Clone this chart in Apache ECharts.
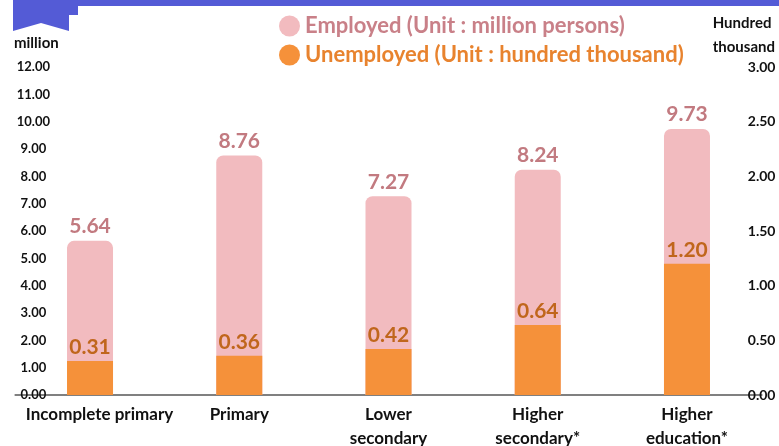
<!DOCTYPE html>
<html lang="en">
<head>
    <meta charset="UTF-8">
    <title>Employed and unemployed by education</title>
    <script src="https://cdn.jsdelivr.net/npm/echarts@6/dist/echarts.min.js"></script>
    <style>
        html, body { margin: 0; padding: 0; background: #fff; }
        #main { width: 779px; height: 446px; }
    </style>
</head>
<body>
<div id="main"></div>
<script>
    // data
    var categories = ['Incomplete primary', 'Primary', 'Lower\nsecondary', 'Higher\nsecondary*', 'Higher\neducation*'];
    var employed = [5.64, 8.76, 7.27, 8.24, 9.73];       // million persons
    var unemployed = [0.31, 0.36, 0.42, 0.64, 1.20];     // hundred thousand
    var leftTicks = [0, 12, 1];
    var rightTicks = [0, 3, 0.5];

    var FONT = 'Lato';

    // the first label sits a bit right of its bar in the original
    var catData = categories.map(function (c, i) {
        return i === 0 ? { value: c, textStyle: { padding: [0, 0, 0, 19] } } : c;
    });

    var chart = echarts.init(document.getElementById('main'));
    chart.setOption({
        backgroundColor: '#fff',
        textStyle: { fontFamily: FONT },
        legend: {
            orient: 'vertical',
            left: 274,
            top: 10,
            itemGap: 7,
            itemWidth: 21,
            itemHeight: 21,
            icon: 'circle',
            data: [
                { name: 'Employed (Unit : million persons)', textStyle: { color: '#C98088' } },
                { name: 'Unemployed (Unit : hundred thousand)', textStyle: { color: '#E8832E' } }
            ],
            textStyle: { fontSize: 22, fontWeight: 'bold', fontFamily: FONT }
        },
        grid: { left: 15.4, right: 17.4, top: 67, bottom: 51, outerBoundsMode: 'none' },
        xAxis: {
            type: 'category',
            data: catData,
            axisLine: { show: true, lineStyle: { color: '#808080', width: 2 } },
            axisTick: { show: false },
            axisLabel: {
                interval: 0,
                margin: 8,
                color: '#111',
                fontSize: 17,
                fontWeight: 'bold',
                lineHeight: 24,
                fontFamily: FONT
            }
        },
        yAxis: [
            {
                type: 'value',
                min: leftTicks[0],
                max: leftTicks[1],
                interval: leftTicks[2],
                offset: -36,
                axisLine: { show: false },
                axisTick: { show: false },
                splitLine: { show: false },
                axisLabel: {
                    align: 'center',
                    margin: 18,
                    color: '#111',
                    fontSize: 13,
                    fontWeight: 'bold',
                    fontFamily: FONT,
                    formatter: function (v) { return v.toFixed(2); }
                }
            },
            {
                type: 'value',
                min: rightTicks[0],
                max: rightTicks[1],
                interval: rightTicks[2],
                offset: -31,
                axisLine: { show: false },
                axisTick: { show: false },
                splitLine: { show: false },
                axisLabel: {
                    align: 'center',
                    margin: 31,
                    color: '#111',
                    fontSize: 14,
                    fontWeight: 'bold',
                    fontFamily: FONT,
                    formatter: function (v) { return v.toFixed(2); }
                }
            }
        ],
        series: [
            {
                name: 'Employed (Unit : million persons)',
                type: 'bar',
                barWidth: 46,
                barGap: '-100%',
                data: employed,
                itemStyle: { color: '#F2BBBF', borderRadius: [7, 7, 0, 0] },
                label: {
                    show: true,
                    position: 'top',
                    distance: 4,
                    color: '#C27A80',
                    fontSize: 21,
                    fontWeight: 'bold',
                    fontFamily: FONT,
                    formatter: function (p) { return p.value.toFixed(2); }
                }
            },
            {
                name: 'Unemployed (Unit : hundred thousand)',
                type: 'bar',
                yAxisIndex: 1,
                barWidth: 46,
                data: unemployed,
                itemStyle: { color: '#F5913A' },
                label: {
                    show: true,
                    position: 'top',
                    distance: 3,
                    color: '#C0661C',
                    fontSize: 21,
                    fontWeight: 'bold',
                    fontFamily: FONT,
                    formatter: function (p) { return p.value.toFixed(2); }
                }
            }
        ],
        graphic: [
            {
                type: 'polygon',
                shape: { points: [[13, 0], [779, 0], [779, 6], [78, 6], [78, 15], [69, 15], [69, 31], [41, 23], [13, 31]] },
                style: { fill: '#545BD6' }
            },
            {
                type: 'text', left: 14, top: 36,
                style: { text: 'million', font: 'bold 15px Lato', fill: '#111' }
            },
            {
                type: 'text', right: 4, top: 11,
                style: { text: 'Hundred\nthousand', font: 'bold 15px Lato', fill: '#111', align: 'right', lineHeight: 24 }
            }
        ]
    });
</script>
</body>
</html>
